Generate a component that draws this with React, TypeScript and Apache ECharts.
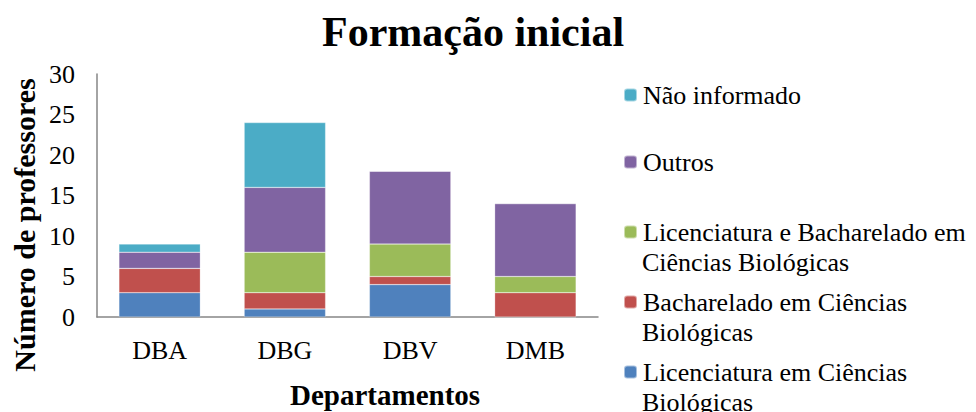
import React, { useEffect, useRef } from "react";
import * as echarts from "echarts";

const categories = ["DBA", "DBG", "DBV", "DMB"];
const seriesNames = [
  "Licenciatura em Ciências Biológicas",
  "Bacharelado em Ciências Biológicas",
  "Licenciatura e Bacharelado em Ciências Biológicas",
  "Outros",
  "Não informado",
];
const licenciatura = [3, 1, 4, 0];
const bacharelado = [3, 2, 1, 3];
const licEBach = [0, 5, 4, 2];
const outros = [2, 8, 9, 9];
const naoInformado = [1, 8, 0, 0];
const colors = ["#4F81BD", "#C0504D", "#9BBB59", "#8064A2", "#4BACC6"];
const legendFirstLines = [
  "Licenciatura em Ciências",
  "Bacharelado em Ciências",
  "Licenciatura e Bacharelado em",
  "Outros",
  "Não informado",
];
const legendSecondLines = ["Biológicas", "Biológicas", "Ciências Biológicas", "", ""];
const legendCenters = [372, 302, 232, 162, 95];

export default function App() {
  const ref = useRef<HTMLDivElement>(null);
  useEffect(() => {
    document.body.style.margin = "0";
    if (!ref.current) return;
    const chart = echarts.init(ref.current, null, { renderer: "svg" });
    const font = "'Liberation Serif', 'Times New Roman', serif";
    const values = [licenciatura, bacharelado, licEBach, outros, naoInformado];
    const legends: any[] = seriesNames.map((n, i) => ({
      data: [n],
      orient: "vertical",
      left: 623,
      top: legendCenters[i] - 15,
      padding: 0,
      itemWidth: 13,
      itemHeight: 13,
      itemGap: 0,
      selectedMode: false,
      formatter: () => legendFirstLines[i],
      textStyle: { fontFamily: font, fontSize: 26, color: "#000", lineHeight: 30, padding: [0, 0, 0, 1] },
    }));
    const graphics: any[] = [];
    legendSecondLines.forEach((t, i) => {
      if (!t) return;
      graphics.push({
        type: "text",
        left: 642,
        top: legendCenters[i] + 30 - 15,
        style: { text: t, font: `26px ${font}`, fill: "#000", lineHeight: 30 },
      });
    });
    graphics.push({
      type: "text",
      left: 290,
      top: 380,
      style: { text: "Departamentos", font: `bold 29px ${font}`, fill: "#000" },
    });
    graphics.push({
      type: "text",
      x: 24,
      y: 225,
      rotation: Math.PI / 2,
      style: {
        text: "Número de professores",
        font: `bold 30px ${font}`,
        fill: "#000",
        align: "center",
        verticalAlign: "middle",
      },
    });
    chart.setOption({
      animation: false,
      title: {
        text: "Formação inicial",
        left: 322,
        top: 11,
        padding: 0,
        textStyle: { fontFamily: font, fontSize: 42, fontWeight: "bold", color: "#000" },
      },
      legend: legends,
      graphic: graphics,
      grid: { left: 97, top: 74, right: 378, bottom: 95, containLabel: false },
      xAxis: {
        type: "category",
        data: categories,
        axisLine: { lineStyle: { color: "#868686", width: 1.5 } },
        axisTick: { show: false },
        axisLabel: { fontFamily: font, fontSize: 26, color: "#000", margin: 20 },
      },
      yAxis: {
        type: "value",
        min: 0,
        max: 30,
        interval: 5,
        axisLine: { show: true, lineStyle: { color: "#868686", width: 1.5 } },
        axisTick: { show: false },
        splitLine: { show: false },
        axisLabel: { fontFamily: font, fontSize: 26, color: "#000", margin: 22 },
      },
      series: seriesNames.map((n, i) => ({
        name: n,
        type: "bar",
        stack: "total",
        data: values[i],
        barWidth: "65%",
        itemStyle: { color: colors[i], borderColor: "rgba(255,255,255,0.5)", borderWidth: 0.5 },
      })),
    });
    return () => chart.dispose();
  }, []);
  return <div ref={ref} style={{ width: 976, height: 412 }} />;
}
